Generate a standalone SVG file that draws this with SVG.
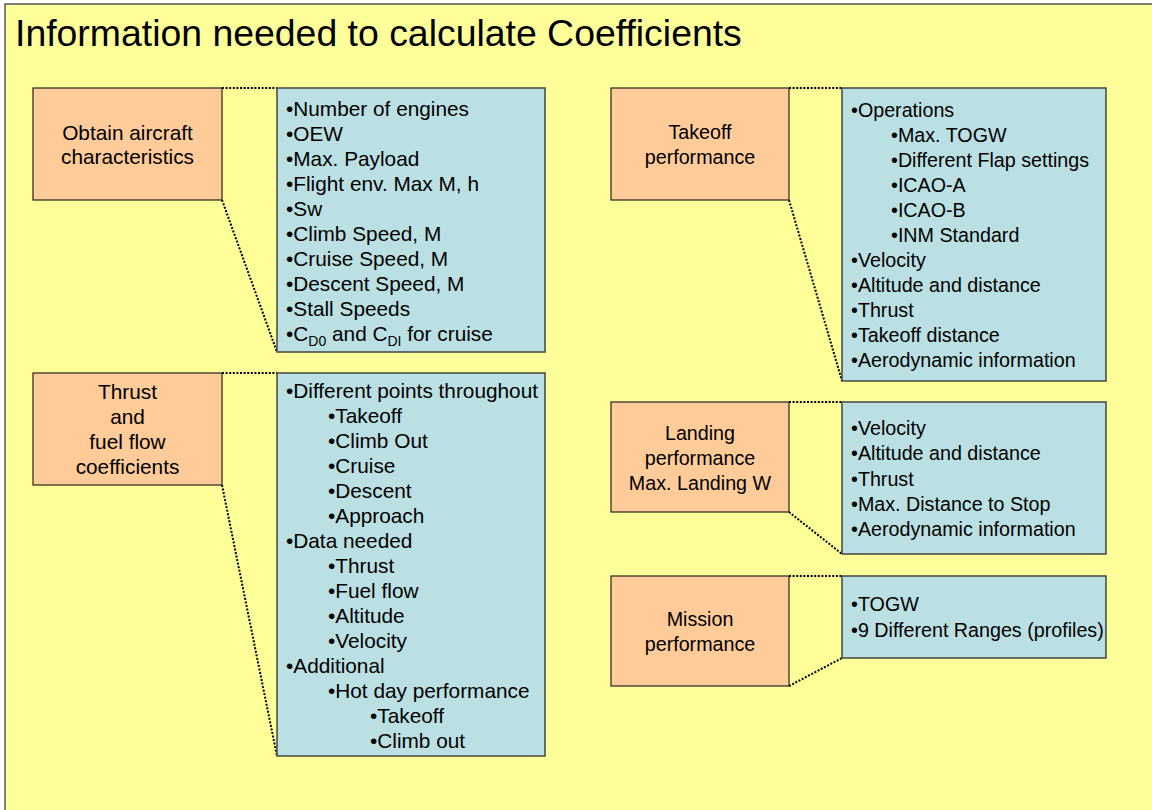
<svg xmlns="http://www.w3.org/2000/svg" width="1152" height="810" viewBox="0 0 1152 810">
  <style>
    .bg { fill: #FFFF99; stroke: #555555; stroke-width: 1.5; }
    .topic { fill: #FFCC99; stroke: #222222; stroke-width: 1.2; }
    .detail { fill: #BBE0E3; stroke: #444444; stroke-width: 1.5; }
    .title { font-family: "Liberation Sans", Arial, sans-serif; font-size: 37.4px; fill: #000000; }
    .label { font-family: "Liberation Sans", Arial, sans-serif; fill: #000000; text-anchor: middle; }
    .item { font-family: "Liberation Sans", Arial, sans-serif; fill: #000000; }
    .left { font-size: 20.8px; }
    .right { font-size: 19.7px; }
    .sub { font-size: 14px; }
    .link { fill: none; stroke: #000000; stroke-width: 2; stroke-dasharray: 2 1.6; }
  </style>

  <!-- slide background -->
  <rect class="bg" x="5" y="4" width="1160" height="820"/>
  <text class="title" x="15" y="46">Information needed to calculate Coefficients</text>

  <!-- dotted callout connectors -->
  <g id="connectors">
    <line class="link" x1="222" y1="88" x2="277" y2="88"/>
    <line class="link" x1="222" y1="200" x2="277" y2="352"/>
    <line class="link" x1="222" y1="373" x2="277" y2="373"/>
    <line class="link" x1="222" y1="485" x2="277" y2="756"/>
    <line class="link" x1="789" y1="88" x2="842" y2="88"/>
    <line class="link" x1="789" y1="200" x2="842" y2="381"/>
    <line class="link" x1="789" y1="402" x2="842" y2="402"/>
    <line class="link" x1="789" y1="512" x2="842" y2="554"/>
    <line class="link" x1="789" y1="576" x2="842" y2="576"/>
    <line class="link" x1="789" y1="686" x2="842" y2="658"/>
  </g>

  <!-- aircraft characteristics -->
  <g id="aircraft">
    <rect class="topic" x="33" y="88" width="189" height="112"/>
    <text class="label left" x="127.5" y="140">Obtain aircraft</text>
    <text class="label left" x="127.5" y="164">characteristics</text>
  </g>
  <g id="aircraft-list">
    <rect class="detail" x="277" y="88" width="268" height="264"/>
    <text class="item left" x="286" y="116">•Number of engines</text>
    <text class="item left" x="286" y="141">•OEW</text>
    <text class="item left" x="286" y="166">•Max. Payload</text>
    <text class="item left" x="286" y="191">•Flight env. Max M, h</text>
    <text class="item left" x="286" y="216">•Sw</text>
    <text class="item left" x="286" y="241">•Climb Speed, M</text>
    <text class="item left" x="286" y="266">•Cruise Speed, M</text>
    <text class="item left" x="286" y="291">•Descent Speed, M</text>
    <text class="item left" x="286" y="316">•Stall Speeds</text>
    <text class="item left" x="286" y="341">•C<tspan class="sub" dy="5">D0</tspan><tspan dy="-5"> and C</tspan><tspan class="sub" dy="5">DI</tspan><tspan dy="-5"> for cruise</tspan></text>
  </g>

  <!-- thrust and fuel flow -->
  <g id="thrust">
    <rect class="topic" x="33" y="373" width="189" height="112"/>
    <text class="label left" x="127.5" y="399">Thrust</text>
    <text class="label left" x="127.5" y="424">and</text>
    <text class="label left" x="127.5" y="449">fuel flow</text>
    <text class="label left" x="127.5" y="474">coefficients</text>
  </g>
  <g id="thrust-list">
    <rect class="detail" x="277" y="373" width="268" height="383"/>
    <text class="item left" x="286" y="398">•Different points throughout</text>
    <text class="item left" x="328" y="423">•Takeoff</text>
    <text class="item left" x="328" y="448">•Climb Out</text>
    <text class="item left" x="328" y="473">•Cruise</text>
    <text class="item left" x="328" y="498">•Descent</text>
    <text class="item left" x="328" y="523">•Approach</text>
    <text class="item left" x="286" y="548">•Data needed</text>
    <text class="item left" x="328" y="573">•Thrust</text>
    <text class="item left" x="328" y="598">•Fuel flow</text>
    <text class="item left" x="328" y="623">•Altitude</text>
    <text class="item left" x="328" y="648">•Velocity</text>
    <text class="item left" x="286" y="673">•Additional</text>
    <text class="item left" x="328" y="698">•Hot day performance</text>
    <text class="item left" x="370" y="723">•Takeoff</text>
    <text class="item left" x="370" y="748">•Climb out</text>
  </g>

  <!-- takeoff performance -->
  <g id="takeoff">
    <rect class="topic" x="611" y="88" width="178" height="112"/>
    <text class="label right" x="700" y="139">Takeoff</text>
    <text class="label right" x="700" y="164">performance</text>
  </g>
  <g id="takeoff-list">
    <rect class="detail" x="842" y="88" width="264" height="293"/>
    <text class="item right" x="851" y="117">•Operations</text>
    <text class="item right" x="891" y="142">•Max. TOGW</text>
    <text class="item right" x="891" y="167">•Different Flap settings</text>
    <text class="item right" x="891" y="192">•ICAO-A</text>
    <text class="item right" x="891" y="217">•ICAO-B</text>
    <text class="item right" x="891" y="242">•INM Standard</text>
    <text class="item right" x="851" y="267">•Velocity</text>
    <text class="item right" x="851" y="292">•Altitude and distance</text>
    <text class="item right" x="851" y="317">•Thrust</text>
    <text class="item right" x="851" y="342">•Takeoff distance</text>
    <text class="item right" x="851" y="367">•Aerodynamic information</text>
  </g>

  <!-- landing performance -->
  <g id="landing">
    <rect class="topic" x="611" y="402" width="178" height="110"/>
    <text class="label right" x="700" y="440">Landing</text>
    <text class="label right" x="700" y="465">performance</text>
    <text class="label right" x="700" y="490">Max. Landing W</text>
  </g>
  <g id="landing-list">
    <rect class="detail" x="842" y="402" width="264" height="152"/>
    <text class="item right" x="851" y="435">•Velocity</text>
    <text class="item right" x="851" y="460">•Altitude and distance</text>
    <text class="item right" x="851" y="486">•Thrust</text>
    <text class="item right" x="851" y="511">•Max. Distance to Stop</text>
    <text class="item right" x="851" y="536">•Aerodynamic information</text>
  </g>

  <!-- mission performance -->
  <g id="mission">
    <rect class="topic" x="611" y="576" width="178" height="110"/>
    <text class="label right" x="700" y="626">Mission</text>
    <text class="label right" x="700" y="651">performance</text>
  </g>
  <g id="mission-list">
    <rect class="detail" x="842" y="576" width="264" height="82"/>
    <text class="item right" x="851" y="611">•TOGW</text>
    <text class="item right" x="851" y="637">•9 Different Ranges (profiles)</text>
  </g>
</svg>
